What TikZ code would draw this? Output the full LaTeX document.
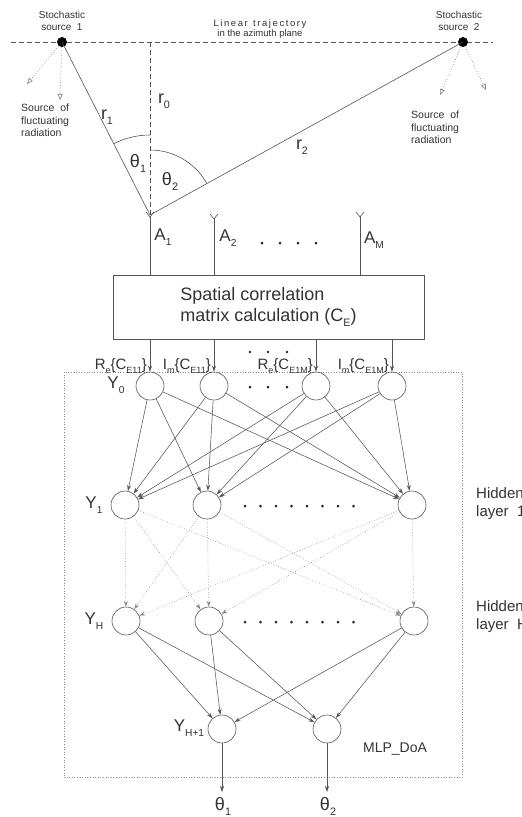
\documentclass[tikz,border=0pt]{standalone}
\usepackage{fontspec}
\setmainfont{Liberation Sans}
\usetikzlibrary{arrows.meta,calc}
\definecolor{ln}{HTML}{555555}
\definecolor{lnl}{HTML}{8A8A8A}
\definecolor{tx}{HTML}{333333}
\newcommand\sbs[1]{\raisebox{-0.28em}{\scalebox{0.6}{#1}}}
\begin{document}
\begin{tikzpicture}[x=1pt,y=-1pt,
  every node/.style={text=tx, inner sep=0pt},
  neuron/.style={circle, draw=ln, line width=0.6pt, minimum size=28pt},
  conn/.style={draw=ln, line width=0.55pt, -{Stealth[length=6pt,width=4pt]}},
  dconn/.style={draw=lnl, dotted, line width=0.6pt, -{Stealth[length=6pt,width=4pt]}},
  srcarr/.style={draw=lnl, dotted, line width=0.7pt, -{Triangle[open,length=6pt,width=5pt]}},
  thin/.style={draw=ln, line width=0.6pt},
  small/.style={font=\fontsize{10}{12}\selectfont, align=center},
  smallL/.style={font=\fontsize{10.5}{12.3}\selectfont, align=left},
  lab/.style={font=\fontsize{16}{19}\selectfont},
  mid/.style={font=\fontsize{15}{18}\selectfont},
  dotb/.style={circle, fill=black!85, inner sep=0pt, minimum size=3pt}
]
\useasboundingbox (0,0) rectangle (522,817);
\fill[white] (0,0) rectangle (522,817);

% trajectory line
\coordinate (tl) at (11,42);
\coordinate (tr) at (493,42);
\draw[ln, line width=0.6pt, dash pattern=on 5pt off 3pt] (tl) -- (tr);

% sources
\node[circle, fill=black, minimum size=10pt] (s1) at (62,42) {};
\node[circle, fill=black, minimum size=10pt] (s2) at (463,42) {};
\node[small] (s1t) at (62,21) {Stochastic\\source\ \ 1};
\node[small] (s2t) at (459,21) {Stochastic\\source\ \ 2};
\node[small, font=\fontsize{9.5}{10.5}\selectfont] (traj) at (260,29) {L\,i\,n\,e\,a\,r\ \ t\,r\,a\,j\,e\,c\,t\,o\,r\,y\\in the azimuth plane};

% source arrows
\coordinate (s1a) at (27,84);
\coordinate (s1b) at (60,100);
\coordinate (s2a) at (440,95);
\coordinate (s2b) at (486,90);
\draw[srcarr] (s1) -- (s1a);
\draw[srcarr] (s1) -- (s1b);
\draw[srcarr] (s2) -- (s2a);
\draw[srcarr] (s2) -- (s2b);
\node[smallL, anchor=north west] (f1) at (21,104) {Source\ \ of\\fluctuating\\radiation};
\node[smallL, anchor=north west] (f2) at (411,111) {Source\ \ of\\fluctuating\\radiation};

% geometry
\coordinate (apex) at (150,215);
\draw[ln, line width=0.6pt, dash pattern=on 5pt off 3pt] (150,42) -- (apex);
\draw[thin] (s1.center) -- (apex);
\draw[thin] (apex) -- (s2.center);
\draw[thin] (apex) ++(-90:80) arc[start angle=-90, end angle=-116.96, radius=80];
\draw[thin] (apex) ++(-90:65) arc[start angle=-90, end angle=-28.93, radius=65];
\node[lab, font=\fontsize{18}{20}\selectfont] (r1) at (107,117) {r\sbs{1}};
\node[lab, font=\fontsize{18}{20}\selectfont] (r0) at (164,101) {r\sbs{0}};
\node[lab, font=\fontsize{18}{20}\selectfont] (r2) at (302,147) {r\sbs{2}};
\node[lab, font=\fontsize{18}{20}\selectfont] (th1) at (138,163) {θ\sbs{1}};
\node[lab, font=\fontsize{18}{20}\selectfont] (th2) at (170,181) {θ\sbs{2}};

% box
\node[draw=ln, line width=0.6pt, minimum width=311pt, minimum height=64pt, align=left,
      font=\fontsize{18}{21}\selectfont] (box) at (268.5,307) {Spatial correlation\\matrix calculation (C\sbs{E})};

% antennas
\coordinate (ant1) at (150,217);
\coordinate (ant2) at (214,219);
\coordinate (antM) at (360,217);
\foreach \a in {ant1,ant2,antM}{
  \draw[thin] (\a) -- (\a |- box.north);
  \draw[thin] (\a) -- ++(-4,-5);
  \draw[thin] (\a) -- ++(4,-5);
}
\node[lab, font=\fontsize{17}{19}\selectfont] (A1) at (163,237) {A\sbs{1}};
\node[lab, font=\fontsize{17}{19}\selectfont] (A2) at (228,238) {A\sbs{2}};
\node[lab, font=\fontsize{17}{19}\selectfont] (AM) at (374,240) {A\sbs{M}};
\foreach \x in {262,280,298,316} \node[dotb] at (\x,243) {};

% MLP dotted box
\node[draw=lnl, dotted, line width=0.6pt, minimum width=398pt, minimum height=405pt] (mlp) at (263,574.5) {};
\node[font=\fontsize{14}{16}\selectfont] (mlpt) at (395,749) {MLP\_DoA};

% neurons
\node[neuron] (i1) at (150,386) {};
\node[neuron] (i2) at (214,386) {};
\node[neuron] (i3) at (316,386) {};
\node[neuron] (i4) at (392,386) {};
\node[neuron] (ha) at (125,505) {};
\node[neuron] (hb) at (207,505) {};
\node[neuron] (hc) at (412,505) {};
\node[neuron] (ga) at (126,621) {};
\node[neuron] (gb) at (209,621) {};
\node[neuron] (gc) at (414,621) {};
\node[neuron] (o1) at (222,729) {};
\node[neuron] (o2) at (327,729) {};

% inputs from box
\foreach \n in {i1,i2,i3,i4} \draw[conn] (box.south -| \n) -- (\n);
\node[mid, anchor=east] (l1) at (147,366) {R\sbs{e}\{C\sbs{E11}\}};
\node[mid, anchor=east] (l2) at (211,366) {I\sbs{m}\{C\sbs{E11}\}};
\node[mid, anchor=east] (l3) at (313,366) {R\sbs{e}\{C\sbs{E1M}\}};
\node[mid, anchor=east] (l4) at (389,366) {I\sbs{m}\{C\sbs{E1M}\}};
\foreach \x in {250,268,287} \node[dotb, minimum size=2.6pt] at (\x,352) {};

% layer labels
\node[lab, font=\fontsize{17}{19}\selectfont] (y0) at (116,385) {Y\sbs{0}};
\node[lab, font=\fontsize{17}{19}\selectfont] (y1) at (94,505) {Y\sbs{1}};
\node[lab, font=\fontsize{17}{19}\selectfont] (yh) at (94,621) {Y\sbs{H}};
\node[lab, font=\fontsize{17}{19}\selectfont] (yo) at (189,728) {Y\sbs{H+1}};
\node[mid, align=left, anchor=west] (hl1) at (476,504) {Hidden\\layer\ \ 1};
\node[mid, align=left, anchor=west] (hlH) at (476,617) {Hidden\\layer\ \ H};

% dots
\foreach \x in {250,268,287} \node[dotb] at (\x,387) {};
\foreach \x in {245,260.5,276,291.5,307,322.5,338,353.5} {
  \node[dotb] at (\x,506) {};
  \node[dotb] at (\x,622) {};
}

% connections
\foreach \a in {i1,i2,i3,i4} \foreach \b in {ha,hb,hc} \draw[conn] (\a) -- (\b);
\foreach \a in {ha,hb,hc} \foreach \b in {ga,gb,gc} \draw[dconn] (\a) -- (\b);
\foreach \a in {ga,gb,gc} \foreach \b in {o1,o2} \draw[conn] (\a) -- (\b);

% outputs
\node[lab, font=\fontsize{18}{20}\selectfont] (t1) at (223,806) {θ\sbs{1}};
\node[lab, font=\fontsize{18}{20}\selectfont] (t2) at (328,806) {θ\sbs{2}};
\draw[conn] (o1) -- (o1 |- 0,792);
\draw[conn] (o2) -- (o2 |- 0,792);
\end{tikzpicture}
\end{document}
